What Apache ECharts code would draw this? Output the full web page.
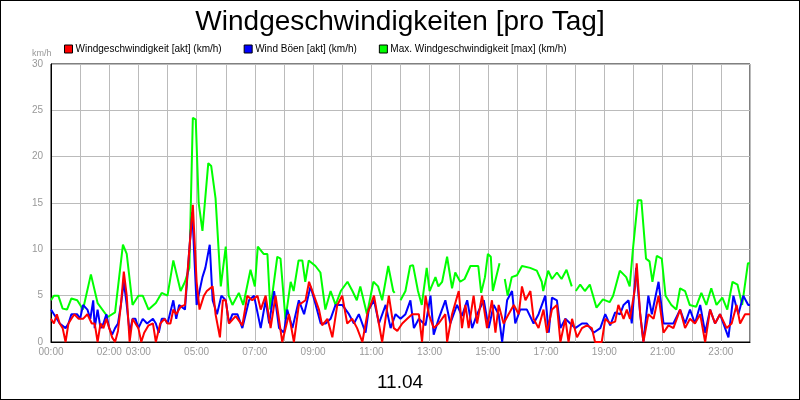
<!DOCTYPE html>
<html><head><meta charset="utf-8">
<script src="https://cdn.jsdelivr.net/npm/echarts@6/dist/echarts.min.js"></script>
<style>html,body{margin:0;padding:0;background:#fff}#c{width:798px;height:398px;border:1px solid #000}</style>
</head><body><div id="c"></div>
<script>
const shownLabels = ['00:00','02:00','03:00','05:00','07:00','09:00','11:00','13:00','15:00','17:00','19:00','21:00','23:00'];
const yTicks = [0,5,10,15,20,25,30];

const greenT = [0,0.1,0.25,0.4,0.55,0.7,0.9,1.1,1.37,1.6,1.95,2.2,2.47,2.6,2.8,3.0,3.15,3.35,3.6,3.8,4.0,4.2,4.45,4.6,4.75,4.87,4.97,5.07,5.2,5.4,5.5,5.65,5.83,6.0,6.1,6.23,6.45,6.6,6.85,7.0,7.1,7.3,7.43,7.53,7.77,7.88,8.05,8.23,8.33,8.5,8.63,8.73,8.85,9.08,9.25,9.42,9.6,9.77,9.95,10.18,10.35,10.5,10.62,10.85,11.07,11.23,11.37,11.58,11.75,11.8,11.9,12.0,12.17,12.33,12.43,12.6,12.73,12.9,13.0,13.2,13.3,13.43,13.6,13.77,13.88,14.05,14.2,14.4,14.67,14.77,14.9,15.0,15.1,15.17,15.4,15.5,15.58,15.68,15.82,16.0,16.17,16.45,16.68,16.85,16.9,17.07,17.2,17.37,17.53,17.7,17.88,17.95,18.02,18.17,18.33,18.5,18.73,18.95,19.18,19.3,19.53,19.75,19.87,19.98,20.15,20.27,20.43,20.55,20.65,20.8,20.97,21.1,21.3,21.47,21.6,21.77,21.93,22.15,22.33,22.5,22.67,22.85,23.05,23.22,23.4,23.57,23.73,23.93,24.0];
const greenV = [4.5,5,5,3.6,3.5,4.7,4.5,3.5,7.3,4.2,2.7,3.2,10.5,9.5,4.0,5.0,5.0,3.5,4.2,5.3,5.0,8.8,5.5,6.5,8.0,24.2,24.0,15,12,19.3,19.0,15.5,6.0,10.3,5.0,4.0,5.3,4.0,7.8,6.0,10.3,9.5,9.5,3.5,9.2,9.0,2.5,6.5,5.5,8.8,8.8,6.5,8.8,8.2,7.5,3.5,5.5,4.0,5.5,6.5,5.5,4.5,6.0,3.0,6.5,6.0,4.5,8.2,5.5,5.3,null,4.5,5.5,8.2,8.3,5.5,4.0,8.0,5.5,7.0,6.0,6.5,9.2,5.8,7.5,6.5,6.8,8.2,8.2,5.3,7.0,9.5,9.2,5.5,8.5,null,6.8,5.0,7.0,7.2,8.2,8.0,7.7,6.5,5.5,7.7,6.8,7.5,6.8,7.8,6.0,null,5.5,6.2,5.5,6.2,3.7,4.6,4.3,5.0,7.7,7.0,6.0,10.0,15.3,15.3,9.0,8.7,6.5,9.3,9.0,5.0,4.0,3.5,5.8,5.5,4.0,3.8,5.3,4.0,5.8,4.0,4.8,3.5,6.5,6.2,4.0,8.5,8.5];

const blueT = [0,0.1,0.2,0.3,0.5,0.6,0.7,0.9,1.0,1.1,1.25,1.35,1.45,1.5,1.6,1.7,1.8,1.9,2.0,2.1,2.2,2.3,2.4,2.5,2.6,2.7,2.8,2.9,3.0,3.15,3.3,3.5,3.6,3.7,3.8,3.9,4.0,4.2,4.3,4.4,4.6,4.75,4.85,5.0,5.1,5.2,5.3,5.45,5.55,5.7,5.85,6.0,6.11,6.23,6.4,6.57,6.8,6.97,7.2,7.37,7.49,7.66,7.83,8.0,8.11,8.29,8.51,8.69,8.91,9.09,9.26,9.43,9.6,9.77,10.0,10.23,10.4,10.57,10.8,10.91,11.09,11.26,11.49,11.66,11.83,12.0,12.17,12.34,12.46,12.63,12.86,13.03,13.14,13.31,13.54,13.71,13.94,14.11,14.29,14.46,14.63,14.86,15.03,15.2,15.37,15.49,15.66,15.83,15.94,16.11,16.34,16.57,16.74,16.97,17.09,17.2,17.37,17.49,17.66,17.83,18.0,18.23,18.4,18.63,18.86,19.03,19.2,19.37,19.54,19.66,19.83,19.94,20.09,20.23,20.34,20.51,20.63,20.86,21.03,21.2,21.37,21.6,21.77,21.94,22.11,22.29,22.46,22.63,22.8,22.97,23.26,23.43,23.6,23.77,23.94,24.0];
const blueV = [3.5,3,2.5,2,1.5,2,3,3,2.5,4,3.5,2.5,4.5,1.5,3.5,1.5,2,3,1.5,0.8,1.5,2,4,6.5,4,1,2.5,2.5,1.5,2.5,2,2.5,2,1,2.5,2.5,2,4.5,2.5,4,3.5,10,14,4,5.5,7,8,10.5,4.5,3,5,4.5,2,3,3,1.5,4.5,5,1.5,4.5,2,5.5,1.5,1,3.5,1.5,4.5,3,6,4,2,2,2.5,4,4,3,2,3,1,3.5,4.5,2,4,1.5,3,2.5,3,4.5,1.5,2.5,1.8,5,0.8,2.5,4.5,2,4,2.8,4.5,1.5,3,4.5,1.5,4,3,0,4.5,5.5,2,3.5,3.5,2,3,5,1,4.8,4.5,1.5,2.5,2,1.5,2,2,1,1.5,3,1.8,3.2,3,4,4.5,2,8,3,0,5,3,6.5,2,2,2,3.5,2,3.5,2,4,1,3.5,2,3,0.5,5,3,5,4,4];

const redT = [0,0.1,0.2,0.3,0.4,0.5,0.6,0.7,0.8,0.95,1.1,1.25,1.4,1.5,1.6,1.7,1.8,1.9,2.0,2.1,2.2,2.3,2.4,2.5,2.6,2.7,2.8,2.9,3.0,3.1,3.2,3.35,3.5,3.6,3.75,3.9,4.0,4.1,4.2,4.3,4.45,4.6,4.75,4.87,5.0,5.1,5.25,5.35,5.55,5.65,5.8,5.9,6.0,6.11,6.34,6.57,6.74,6.91,7.09,7.2,7.37,7.54,7.71,7.94,8.17,8.34,8.51,8.74,8.86,9.03,9.2,9.31,9.49,9.66,9.83,10.0,10.17,10.34,10.51,10.69,10.86,11.09,11.2,11.37,11.6,11.77,11.89,12.06,12.23,12.4,12.63,12.74,12.86,12.97,13.14,13.31,13.54,13.6,13.77,14.0,14.11,14.23,14.34,14.51,14.63,14.8,14.97,15.14,15.26,15.37,15.54,15.71,15.89,16.06,16.17,16.29,16.46,16.57,16.74,16.91,17.03,17.2,17.37,17.49,17.66,17.77,17.89,18.06,18.23,18.4,18.57,18.68,18.91,19.03,19.2,19.37,19.48,19.66,19.77,19.88,20.06,20.11,20.23,20.34,20.51,20.69,20.86,21.03,21.2,21.37,21.6,21.77,21.94,22.11,22.29,22.46,22.63,22.8,22.97,23.2,23.37,23.54,23.66,23.83,24.0];
const redV = [2.5,2,3,2,1.5,0,2,2.5,3,2.5,2.5,3,2,2,0,2,1.5,2.5,1.5,0.5,0,1.2,4,7.6,5,0,2.5,2,1.5,0,1,1.8,2,0,2,2.5,2,2,3.5,3,3.8,4,10,14.8,6.5,3.5,5,5.5,6,3,0.5,4.5,4.5,2,2.8,1.8,5,4.5,5,3.5,5,1.5,5,0,3,0,4,4.5,6.5,5,3.5,1.8,2.5,0.5,4,5,2,2.5,1.5,0,3,5,3,0,5,1.5,1.2,2,2.5,3,3,0,5,3,1.5,2,3,0,3,5.5,1.5,4,1.5,5,2,5,1.5,4.5,1,4,2,3,4,3,6,4.5,5.5,2.5,1.5,3.5,1,3.5,4,0,2.5,0,2.5,0.5,1.5,1.8,1.5,0,0,2.5,2,2.2,4,2.5,3.5,2.5,6,8.5,3,0,3,2.5,5,1,1.8,1.5,3.5,1.5,2.5,2,3,0,3.5,2,3,1.5,2,4,2,3,3];

function pairs(t, v){ return t.map((x,i)=>[x, v[i]]); }
const chart = echarts.init(document.getElementById('c'));
chart.setOption({
  animation:false,
  title:[{text:'Windgeschwindigkeiten [pro Tag]',left:'center',top:2,textStyle:{fontFamily:'Liberation Sans',fontSize:28,fontWeight:'normal',color:'#000'}},
         {text:'11.04',left:'center',top:367,textStyle:{fontFamily:'Liberation Sans',fontSize:19,fontWeight:'normal',color:'#000'}},
         {text:'km/h',left:26,top:43,textStyle:{fontFamily:'Liberation Sans',fontSize:9,fontWeight:'normal',color:'#999'}}],
  legend:{top:38,left:58,itemWidth:8,itemHeight:8,itemGap:22,icon:'rect',
    textStyle:{fontFamily:'Liberation Sans',fontSize:10,color:'#000',padding:[0,0,0,-2]},
    data:[{name:'Windgeschwindigkeit [akt] (km/h)',itemStyle:{color:'#ff0000',borderColor:'#000',borderWidth:1}},
          {name:'Wind Böen [akt] (km/h)',itemStyle:{color:'#0000ff',borderColor:'#000',borderWidth:1}},
          {name:'Max. Windgeschwindigkeit [max] (km/h)',itemStyle:{color:'#00ff00',borderColor:'#000',borderWidth:1}}]},
  grid:{left:50,right:49,top:63,bottom:57,show:true,borderColor:'#000',borderWidth:1},
  xAxis:{type:'value',min:0,max:24,interval:1,
    axisLine:{lineStyle:{color:'#000'}},axisTick:{show:false},
    splitLine:{lineStyle:{color:'#bbb'}},
    axisLabel:{fontFamily:'Liberation Sans',fontSize:10,color:'#999',margin:5,
      formatter:v=>{const s=(v<10?'0':'')+v+':00';return shownLabels.includes(s)?s:'';}}},
  yAxis:{type:'value',min:0,max:30,interval:5,
    axisLine:{show:true,lineStyle:{color:'#000'}},axisTick:{show:false},
    splitLine:{lineStyle:{color:'#bbb'}},
    axisLabel:{fontFamily:'Liberation Sans',fontSize:10,color:'#999',margin:8,formatter:v=>yTicks.includes(v)?String(v):''}},
  series:[
    {name:'Max. Windgeschwindigkeit [max] (km/h)',type:'line',data:pairs(greenT,greenV),showSymbol:false,connectNulls:false,lineStyle:{color:'#00ff00',width:2},itemStyle:{color:'#00ff00'},z:1},
    {name:'Wind Böen [akt] (km/h)',type:'line',data:pairs(blueT,blueV),showSymbol:false,lineStyle:{color:'#0000ff',width:2},itemStyle:{color:'#0000ff'},z:2},
    {name:'Windgeschwindigkeit [akt] (km/h)',type:'line',data:pairs(redT,redV),showSymbol:false,lineStyle:{color:'#ff0000',width:2},itemStyle:{color:'#ff0000'},z:3}
  ]
});
</script></body></html>
